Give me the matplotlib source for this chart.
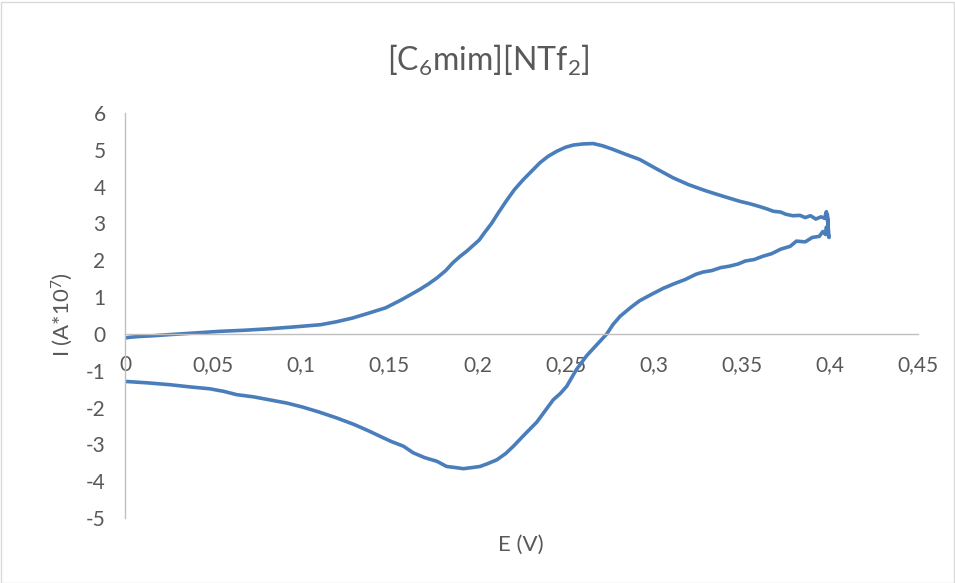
import matplotlib
matplotlib.use("Agg")
import matplotlib.pyplot as plt
from matplotlib.patches import Rectangle
from matplotlib.ticker import FuncFormatter

# Anodic sweep (0 -> 0.4 V)
e_fwd = [0.000, 0.003, 0.008, 0.016, 0.025, 0.035, 0.045, 0.054, 0.068, 0.082,
         0.096, 0.111, 0.120, 0.129, 0.138, 0.148, 0.157, 0.167, 0.172, 0.177,
         0.182, 0.186, 0.190, 0.194, 0.198, 0.201, 0.204, 0.208, 0.212, 0.2165,
         0.221, 0.226, 0.231, 0.2355, 0.240, 0.245, 0.250, 0.2545, 0.260, 0.2657,
         0.271, 0.277, 0.284, 0.292, 0.301, 0.311, 0.320, 0.330, 0.340, 0.349,
         0.355, 0.360, 0.364, 0.368, 0.372, 0.375, 0.379, 0.383, 0.386, 0.389,
         0.392, 0.395, 0.397]
i_fwd = [-0.11, -0.09, -0.07, -0.05, -0.02, 0.01, 0.04, 0.07, 0.10, 0.14,
         0.19, 0.25, 0.33, 0.43, 0.56, 0.71, 0.93, 1.20, 1.35, 1.52,
         1.72, 1.93, 2.10, 2.25, 2.42, 2.55, 2.75, 3.00, 3.30, 3.62,
         3.92, 4.19, 4.43, 4.65, 4.82, 4.96, 5.07, 5.13, 5.16, 5.17,
         5.11, 5.01, 4.88, 4.74, 4.50, 4.24, 4.05, 3.88, 3.73, 3.60,
         3.53, 3.46, 3.40, 3.33, 3.31, 3.25, 3.21, 3.22, 3.16, 3.21,
         3.12, 3.18, 3.14]

# Switching region at 0.4 V and cathodic sweep (0.4 -> 0 V)
e_rev = [0.398, 0.399, 0.3985, 0.3995, 0.398, 0.3975, 0.396, 0.394, 0.390, 0.386,
         0.381, 0.3775, 0.372, 0.367, 0.362, 0.357, 0.352, 0.348, 0.343, 0.338,
         0.333, 0.328, 0.324, 0.318, 0.312, 0.3055, 0.299, 0.292, 0.287, 0.281,
         0.277, 0.2734, 0.268, 0.262, 0.256, 0.2507, 0.247, 0.243, 0.2385, 0.2336,
         0.227, 0.2204, 0.216, 0.211, 0.206, 0.2015, 0.197, 0.192, 0.1875, 0.1825,
         0.177, 0.170, 0.1636, 0.158, 0.151, 0.1447, 0.139, 0.130, 0.120, 0.110,
         0.101, 0.092, 0.082, 0.073, 0.0634, 0.056, 0.048, 0.037, 0.0255, 0.013,
         0.000]
i_rev = [3.32, 2.95, 3.25, 2.62, 2.90, 2.70, 2.78, 2.65, 2.62, 2.50,
         2.52, 2.38, 2.30, 2.18, 2.11, 2.02, 1.98, 1.90, 1.84, 1.80,
         1.72, 1.68, 1.62, 1.48, 1.37, 1.24, 1.08, 0.90, 0.72, 0.48,
         0.26, 0.00, -0.28, -0.59, -0.98, -1.42, -1.62, -1.79, -2.08, -2.40,
         -2.72, -3.05, -3.25, -3.42, -3.52, -3.60, -3.63, -3.66, -3.63, -3.60,
         -3.46, -3.36, -3.23, -3.05, -2.92, -2.78, -2.65, -2.46, -2.28, -2.12,
         -1.99, -1.88, -1.79, -1.71, -1.65, -1.56, -1.49, -1.44, -1.38, -1.33,
         -1.29]

x_ticks = [0, 0.05, 0.1, 0.15, 0.2, 0.25, 0.3, 0.35, 0.4, 0.45]
y_ticks = [-5, -4, -3, -2, -1, 0, 1, 2, 3, 4, 5, 6]

TEXT = "#595959"
AXIS = "#BFBFBF"
LINE = "#4A7EBB"
FONT = ["Lato", "DejaVu Sans"]

plt.rcParams["font.family"] = FONT
plt.rcParams["mathtext.fontset"] = "custom"
plt.rcParams["mathtext.rm"] = "Lato"
plt.rcParams["mathtext.it"] = "Lato:italic"
plt.rcParams["mathtext.bf"] = "Lato:bold"

fig = plt.figure(figsize=(9.55, 5.83), dpi=100)
ax = fig.add_axes([125 / 955, 1 - 518 / 583, (918 - 125) / 955, (518 - 113) / 583])

ax.plot(e_fwd + e_rev, i_fwd + i_rev, color=LINE, lw=2.6,
        solid_joinstyle="round", solid_capstyle="round")

ax.set_xlim(x_ticks[0], x_ticks[-1])
ax.set_ylim(y_ticks[0], y_ticks[-1])
ax.set_xticks(x_ticks)
ax.set_yticks(y_ticks)


def comma_fmt(v, _pos):
    s = f"{v:.2f}".rstrip("0").rstrip(".")
    return s.replace(".", ",")


ax.xaxis.set_major_formatter(FuncFormatter(comma_fmt))
ax.yaxis.set_major_formatter(FuncFormatter(lambda v, _p: f"{int(round(v))}"))

for side in ("top", "right"):
    ax.spines[side].set_visible(False)
ax.spines["bottom"].set_position(("data", 0))
for side in ("left", "bottom"):
    ax.spines[side].set_color(AXIS)
    ax.spines[side].set_linewidth(1.0)

ax.tick_params(axis="both", length=0, labelsize=15, labelcolor=TEXT)
ax.tick_params(axis="x", pad=15)
ax.tick_params(axis="y", pad=14)

fig.text(488 / 955, 1 - 60 / 583, r"[C$_\mathrm{6}$mim][NTf$_\mathrm{2}$]",
         ha="center", va="center", fontsize=23, color=TEXT)
fig.text(521 / 955, 1 - 545 / 583, "E (V)", ha="center", va="center",
         fontsize=16, color=TEXT)
fig.text(62 / 955, 1 - 315 / 583, r"I (A*10$^\mathrm{7}$)", ha="center", va="center",
         rotation=90, fontsize=16, color=TEXT)

fig.patches.append(Rectangle((0.5 / 955, 0.5 / 583), 1 - 2 / 955, 1 - 2 / 583,
                             transform=fig.transFigure, fill=False,
                             edgecolor="#D9D9D9", lw=1.0))

fig.savefig("out.png", dpi=100)
